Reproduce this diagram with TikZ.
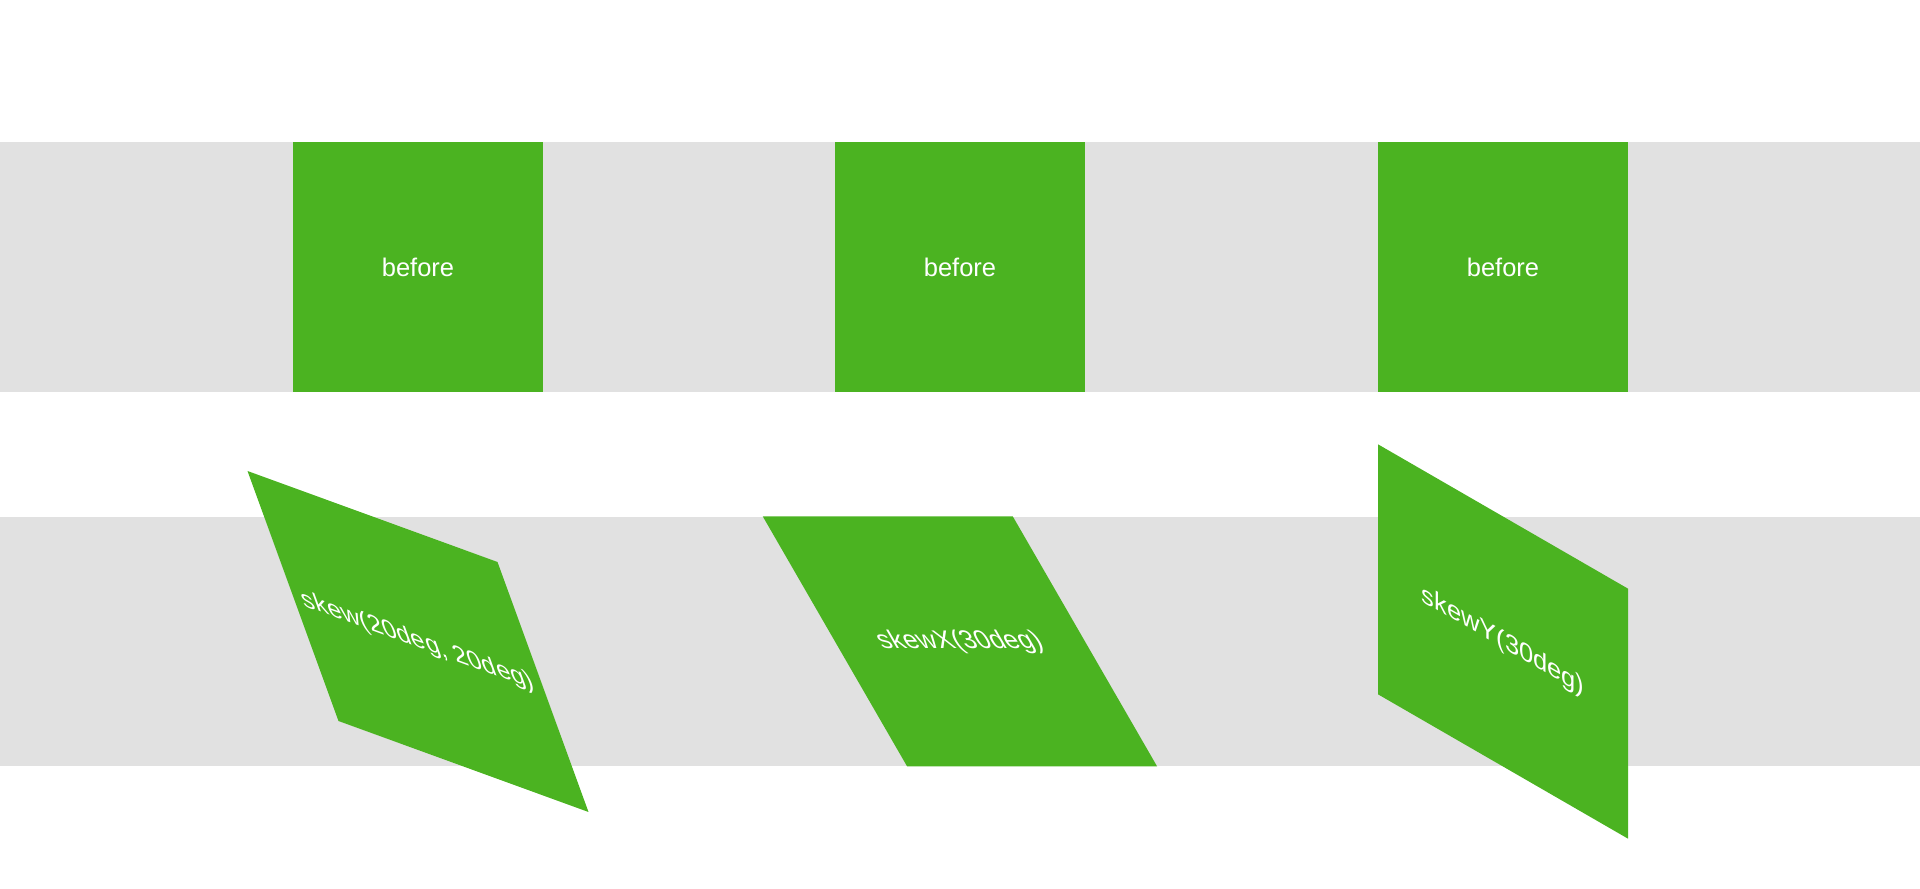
\documentclass[tikz,border=0pt]{standalone}
\usepackage{fontspec}
\setmainfont{Liberation Sans}
\definecolor{band}{HTML}{E1E1E1}
\definecolor{leaf}{HTML}{4BB321}
\tikzset{
  bandfill/.style={fill=band},
  boxfill/.style={fill=leaf},
  lbl/.style={text=white, font=\fontsize{25.5}{30}\selectfont, inner sep=0pt},
}
\begin{document}
\begin{tikzpicture}[x=1pt,y=1pt]
\useasboundingbox (0,0) rectangle (1920,889);
% bands
\fill[bandfill] (0,497) rectangle (1920,747);
\fill[bandfill] (0,123) rectangle (1920,372);
% top row squares
\foreach \cx/\nm in {418/a,960/b,1503/c}{
  \fill[boxfill] (\cx-125,497) rectangle (\cx+125,747);
  \node[lbl] (before\nm) at (\cx,622) {before};
}
% skew(20deg,20deg)
\begin{scope}[shift={(418,247.5)}, cm={1,-0.36397,-0.36397,1,(0,0)}]
  \fill[boxfill] (-125,-125) rectangle (125,125);
  \node[lbl, transform shape] (skew) at (0,0) {skew(20deg, 20deg)};
\end{scope}
% skewX(30deg)
\begin{scope}[shift={(960,247.5)}, cm={1,0,-0.57735,1,(0,0)}]
  \fill[boxfill] (-125,-125) rectangle (125,125);
  \node[lbl, transform shape] (skewx) at (0,0) {skewX(30deg)};
\end{scope}
% skewY(30deg)
\begin{scope}[shift={(1503,247.5)}, cm={1,-0.57735,0,1,(0,0)}]
  \fill[boxfill] (-125,-125) rectangle (125,125);
  \node[lbl, transform shape] (skewy) at (0,0) {skewY(30deg)};
\end{scope}
\end{tikzpicture}
\end{document}
